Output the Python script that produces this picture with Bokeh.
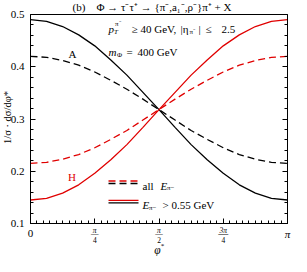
import numpy as np
from bokeh.plotting import figure
from bokeh.models import Label, FixedTicker, LinearAxis, Range1d
from bokeh.embed import file_html
from bokeh.resources import INLINE

# ---- data ----
phi = [i * np.pi / 16 for i in range(17)]
A_cut = [0.490, 0.487, 0.477, 0.461, 0.440, 0.413, 0.384, 0.351, 0.318,
         0.284, 0.251, 0.222, 0.196, 0.174, 0.158, 0.148, 0.145]
H_cut = [0.145, 0.148, 0.158, 0.174, 0.196, 0.222, 0.251, 0.284, 0.318,
         0.351, 0.384, 0.413, 0.440, 0.461, 0.477, 0.487, 0.490]
A_all = [0.420, 0.418, 0.412, 0.403, 0.390, 0.374, 0.357, 0.338, 0.318,
         0.298, 0.278, 0.261, 0.245, 0.232, 0.223, 0.217, 0.215]
H_all = [0.215, 0.217, 0.223, 0.232, 0.245, 0.261, 0.278, 0.298, 0.318,
         0.338, 0.357, 0.374, 0.390, 0.403, 0.412, 0.418, 0.420]

x_major = [0, np.pi / 4, np.pi / 2, 3 * np.pi / 4, np.pi]
x_num = ["π", "π", "3π"]
x_den = ["4", "2", "4"]
y_major = [0.1, 0.2, 0.3, 0.4, 0.5]
X0, X1 = 0.0, np.pi
Y0, Y1 = 0.1, 0.5

RED = "#e00000"
FONT = "Liberation Serif"

W, H = 291, 256
# page-pixel placement of the data box
XL, XR, YT, YB = 38, 295, 22, 231
PX0, PX1, PY0, PY1 = 8, 8 + W, 8, 8 + H

def dx(xp):
    return X0 + (xp - XL) / (XR - XL) * (X1 - X0)
def dy(yp):
    return Y0 + (YB - yp) / (YB - YT) * (Y1 - Y0)

p = figure(width=W, height=H,
           x_range=Range1d(dx(PX0), dx(PX1)), y_range=Range1d(dy(PY1), dy(PY0)),
           output_backend="svg", toolbar_location=None,
           min_border_left=0, min_border_right=0, min_border_top=0, min_border_bottom=0)
p.grid.visible = False
p.outline_line_color = None

# curves
p.line(phi, A_cut, line_color="black", line_width=1.3)
p.line(phi, H_cut, line_color=RED, line_width=1.3)
p.line(phi, A_all, line_color="black", line_width=1.3, line_dash="7 4")
p.line(phi, H_all, line_color=RED, line_width=1.3, line_dash="7 4")

x_minor = [k * np.pi / 40 for k in range(41)]
y_minor = [round(0.1 + 0.02 * k, 2) for k in range(21)]

def style_axis(a, ticks, minor, labels=True, tick_len=(5, 3)):
    a.ticker = FixedTicker(ticks=ticks, minor_ticks=minor)
    a.major_tick_in = tick_len[0]
    a.major_tick_out = 0
    a.minor_tick_in = tick_len[1]
    a.minor_tick_out = 0
    a.axis_line_color = "black"
    a.major_tick_line_color = "black"
    a.minor_tick_line_color = "black"
    if not labels:
        a.major_label_overrides = {v: "" for v in ticks}
        a.major_label_standoff = 0

ax = p.xaxis[0]
ax.fixed_location = Y0
ax.bounds = (X0, X1)
style_axis(ax, x_major, x_minor, labels=False)

ay = p.yaxis[0]
ay.fixed_location = X0
ay.bounds = (Y0, Y1)
style_axis(ay, y_major, y_minor)
ay.major_label_standoff = 6
ay.major_label_text_font = FONT
ay.major_label_text_font_size = "11px"
ay.major_label_text_color = "black"

ar = LinearAxis(fixed_location=X1, bounds=(Y0, Y1))
style_axis(ar, y_major, y_minor, labels=False)
p.add_layout(ar, "right")

at = LinearAxis(fixed_location=Y1, bounds=(X0, X1))
style_axis(at, x_major, x_minor, labels=False, tick_len=(0, 0))
p.add_layout(at, "above")


def lab(text, x, y, size=11, color="black", style="normal", align="left",
        base="alphabetic", angle=0):
    p.add_layout(Label(x=x, y=y, text=text, text_font=FONT,
                       text_font_size=f"{size}px", text_color=color,
                       text_font_style=style, text_align=align,
                       text_baseline=base, angle=angle))

# title
lab("(b)", dx(80), dy(14.5), base="middle")
lab("Φ → τ⁻τ⁺ → {π⁻,a₁⁻,ρ⁻}π⁺ + X", dx(104), dy(14.5), base="middle")

# cuts text
lab("p", dx(116), dy(36.5), style="italic")
lab("T", dx(121.5), dy(39.5), size=7, style="italic")
lab("π⁻", dx(122.5), dy(31), size=7)
lab("≥", dx(139), dy(36.5))
lab("40 GeV,", dx(148), dy(36.5))
lab("|η", dx(188), dy(36.5))
lab("π⁻", dx(197), dy(39.5), size=7)
lab("|", dx(206), dy(36.5))
lab("≤", dx(213), dy(36.5))
lab("2.5", dx(229), dy(36.5))

lab("m", dx(116), dy(59.5), style="italic")
lab("Φ", dx(124.5), dy(62), size=7)
lab("=", dx(134), dy(59.5))
lab("400 GeV", dx(145), dy(59.5))

lab("A", dx(80), dy(61.5), align="center")
lab("H", dx(79.5), dy(184), align="center", color=RED)

# legend
sw_x = [dx(116), dx(146)]
p.line(sw_x, [dy(188.5)] * 2, line_color=RED, line_width=1.3, line_dash="7 4")
p.line(sw_x, [dy(191)] * 2, line_color="black", line_width=1.3, line_dash="7 4")
p.line(sw_x, [dy(207.8)] * 2, line_color=RED, line_width=1.3)
p.line(sw_x, [dy(210.3)] * 2, line_color="black", line_width=1.3)
lab("all", dx(150), dy(193))
lab("E", dx(168), dy(193), style="italic")
lab("π−", dx(174.5), dy(195.5), size=7)
lab("E", dx(150), dy(212.5), style="italic")
lab("π−", dx(156.5), dy(215), size=7)
lab("> 0.55 GeV", dx(170), dy(212.5))

# x tick labels
lab("0", x_major[0], dy(241), align="center", base="middle")
lab("π", x_major[4], dy(241), style="italic", align="center", base="middle")
for xv, n, d in zip(x_major[1:4], x_num, x_den):
    lab(n, xv, dy(237.5), size=7.5, style="italic", align="center", base="middle")
    lab("—", xv, dy(241), size=7.5 if len(n) == 1 else 10, align="center", base="middle")
    lab(d, xv, dy(247.5), size=7.5, align="center", base="middle")

# axis titles
lab("φ", dx(165), dy(257.5), size=11.5, style="italic", align="center", base="middle")
lab("*", dx(170), dy(253.5), size=7, align="center", base="middle")
lab("1/σ · dσ/dφ*", dx(14.5), dy(125), size=10.5, align="center", base="middle",
    angle=np.pi / 2)

open("out.html", "w").write(file_html(p, INLINE))
